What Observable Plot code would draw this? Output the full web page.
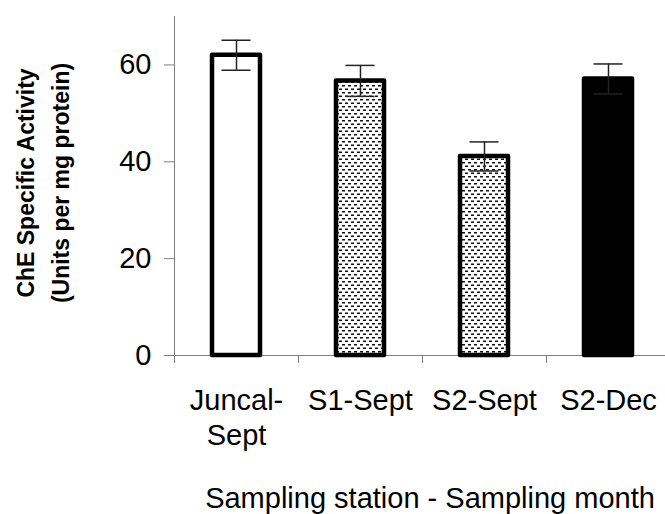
<!DOCTYPE html>
<html><head><meta charset="utf-8">
<script src="https://cdn.jsdelivr.net/npm/d3@7"></script>
<script src="https://cdn.jsdelivr.net/npm/@observablehq/plot@0.6"></script>
<style>html,body{margin:0;padding:0;background:#fff}</style>
</head><body><div id="chart"></div>
<script>
const categories = ["Juncal-Sept", "S1-Sept", "S2-Sept", "S2-Dec"];
const tickLabels = ["Juncal-\nSept", "S1-Sept", "S2-Sept", "S2-Dec"];
const activity = [62.0, 56.7, 41.1, 57.1];
const errors = [3.1, 3.2, 3.0, 3.1];
const fills = ["white", "url(#dash)", "url(#dash)", "black"];
const yTicks = [0, 20, 40, 60];
const yTitle = "ChE Specific Activity\n(Units per mg protein)";
const xTitle = "Sampling station - Sampling month";

const data = categories.map((c, i) => ({category: c, value: activity[i], err: errors[i], fill: fills[i]}));

const W = 665, H = 514, X0 = 174, X1 = 670, STEP = (X1 - X0) / categories.length;
const AXIS = "#808080";
const FONT = "'Liberation Sans', Arial, sans-serif";

const plot = Plot.plot({
  width: W, height: H,
  marginTop: 16, marginBottom: 159, marginLeft: 174, marginRight: 0,
  style: {fontFamily: FONT, fontSize: "29px", background: "white", color: "black"},
  x: {domain: categories, range: [X0, X1], padding: 0, round: false},
  y: {domain: [0, 70]},
  color: {type: "identity"},
  marks: [
    Plot.ruleY([0], {stroke: AXIS, strokeWidth: 1}),
    Plot.ruleX(categories.slice(0, 1), {x: d => d, dx: -STEP / 2, stroke: AXIS}),
    Plot.ruleX(categories, {x: d => d, dx: -STEP / 2, y1: 0, y2: 0, insetBottom: -8, stroke: AXIS}),
    Plot.axisY({ticks: yTicks, tickSize: 10, tickPadding: 13, stroke: AXIS, fill: "black", fontSize: 29, label: null}),
    Plot.axisX({tickSize: 0, tickPadding: 30, fontSize: 29, lineHeight: 1.2, fill: "black", label: null,
      tickFormat: d => tickLabels[categories.indexOf(d)]}),
    Plot.barY(data, {x: "category", y: "value", fill: "fill", stroke: "black", strokeWidth: 4.5,
      strokeLinejoin: "round", insetLeft: 38, insetRight: 38}),
    Plot.ruleX(data, {x: "category", y1: d => d.value - d.err, y2: d => d.value + d.err, stroke: "#222", strokeWidth: 1.5}),
    Plot.tickY(data, {x: "category", y: d => d.value - d.err, stroke: "#222", strokeWidth: 1.5, insetLeft: 47.5, insetRight: 47.5}),
    Plot.tickY(data, {x: "category", y: d => d.value + d.err, stroke: "#222", strokeWidth: 1.5, insetLeft: 47.5, insetRight: 47.5}),
    Plot.text([yTitle], {text: d => d, frameAnchor: "left", textAnchor: "middle", lineAnchor: "middle", rotate: -90, dx: -134, dy: -3,
      fontSize: 23, fontWeight: "bold", lineHeight: 1.5, fill: "black"}),
    Plot.text([xTitle], {text: d => d, frameAnchor: "bottom", lineAnchor: "bottom", dx: 10, dy: 152, fontSize: 29, fill: "black"})
  ]
});

const ns = "http://www.w3.org/2000/svg";
const defs = document.createElementNS(ns, "defs");
defs.innerHTML = '<pattern id="dash" width="6" height="7" patternUnits="userSpaceOnUse">' +
  '<rect width="6" height="7" fill="white"/>' +
  '<rect x="0" y="1" width="3" height="1.5" fill="#111"/>' +
  '<rect x="3" y="4.5" width="3" height="1.5" fill="#111"/></pattern>';
plot.insertBefore(defs, plot.firstChild);
document.getElementById("chart").appendChild(plot);
</script>
</body></html>
